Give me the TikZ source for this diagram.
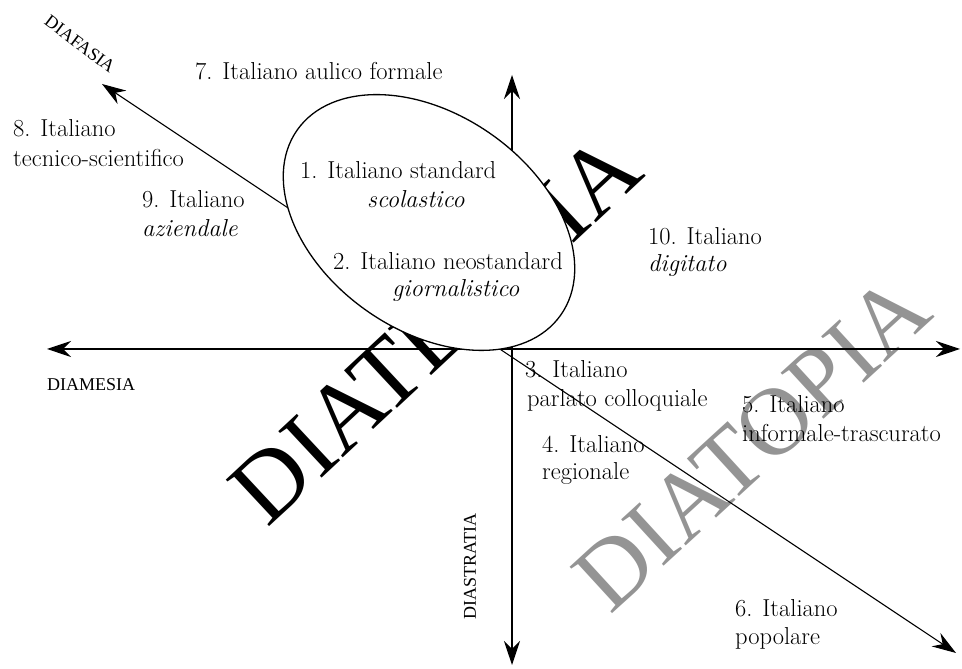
\documentclass[tikz,border=0pt]{standalone}
\usepackage{fontspec}
\usetikzlibrary{arrows.meta,shapes.geometric}
\newfontfamily\capfont{Liberation Serif}
\newcommand\mainsize{\fontsize{24.5}{29}\selectfont}
\newcommand\osn[1]{\oldstylenums{#1}}
\tikzset{
  lbl/.style={anchor=base west, inner sep=0pt, font=\mainsize},
  itlbl/.style={lbl, font=\mainsize\itshape},
  capslbl/.style={inner sep=0pt, font=\capfont\fontsize{18}{18}\selectfont},
  bigword/.style={inner sep=0pt, font=\capfont\fontsize{97}{97}\selectfont},
  axisline/.style={line width=1.1pt},
  >={Stealth[length=24pt,width=16pt,inset=8pt]}
}
\begin{document}
\begin{tikzpicture}[x=1pt,y=1pt]
\fill[white] (0,0) rectangle (962,669);
\useasboundingbox (0,0) rectangle (962,669);
% big background words
\node[bigword, rotate=43] (diatecnia) at (435.5,340) {DIATECNIA};
\node[bigword, rotate=42.5, text=black!42, font=\capfont\fontsize{96}{96}\selectfont] (diatopia) at (752,226) {DIATOPIA};
% axes
\coordinate (hl) at (47,320);
\coordinate (hr) at (960,320);
\coordinate (vt) at (512,594);
\coordinate (vb) at (512,4);
\coordinate (dl) at (102,585);
\coordinate (dr) at (956,16);
\draw[axisline,<->] (hl) -- (hr);
\draw[axisline,<->] (vt) -- (vb);
\draw[axisline,<->] (dl) -- (dr);
% ellipse
\node[ellipse, draw, fill=white, line width=1.3pt, minimum width=322pt, minimum height=216pt, inner sep=0pt, rotate=-35] (ell) at (429,446.5) {};
% axis labels
\node[capslbl, rotate=-37] (diafasia) at (80,625) {DIAFASIA};
\node[capslbl, rotate=90] (diastratia) at (470,102.5) {DIASTRATIA};
\node[capslbl, anchor=base west] (diamesia) at (47,278) {DIAMESIA};
% varieties
\node[lbl] (v1a) at (300,490) {\osn{1}. Italiano standard};
\node[itlbl] (v1b) at (367,461) {scolastico};
\node[lbl] (v2a) at (333,399) {\osn{2}. Italiano neostandard};
\node[itlbl] (v2b) at (392,372) {giornalistico};
\node[lbl] (v3a) at (525,291) {\osn{3}. Italiano};
\node[lbl] (v3b) at (527,262) {parlato colloquiale};
\node[lbl] (v4a) at (542,216) {\osn{4}. Italiano};
\node[lbl] (v4b) at (542,189) {regionale};
\node[lbl] (v5a) at (742,256) {\osn{5}. Italiano};
\node[lbl] (v5b) at (742,227) {informale-trascurato};
\node[lbl] (v6a) at (735,52) {\osn{6}. Italiano};
\node[lbl] (v6b) at (735,24) {popolare};
\node[lbl] (v7) at (195,589) {\osn{7}. Italiano aulico formale};
\node[lbl] (v8a) at (13,532) {\osn{8}. Italiano};
\node[lbl] (v8b) at (13,502) {tecnico-scientifico};
\node[lbl] (v9a) at (142,461) {\osn{9}. Italiano};
\node[itlbl] (v9b) at (142,432) {aziendale};
\node[lbl] (v10a) at (648,424) {\osn{10}. Italiano};
\node[itlbl] (v10b) at (648,397) {digitato};
\end{tikzpicture}
\end{document}
